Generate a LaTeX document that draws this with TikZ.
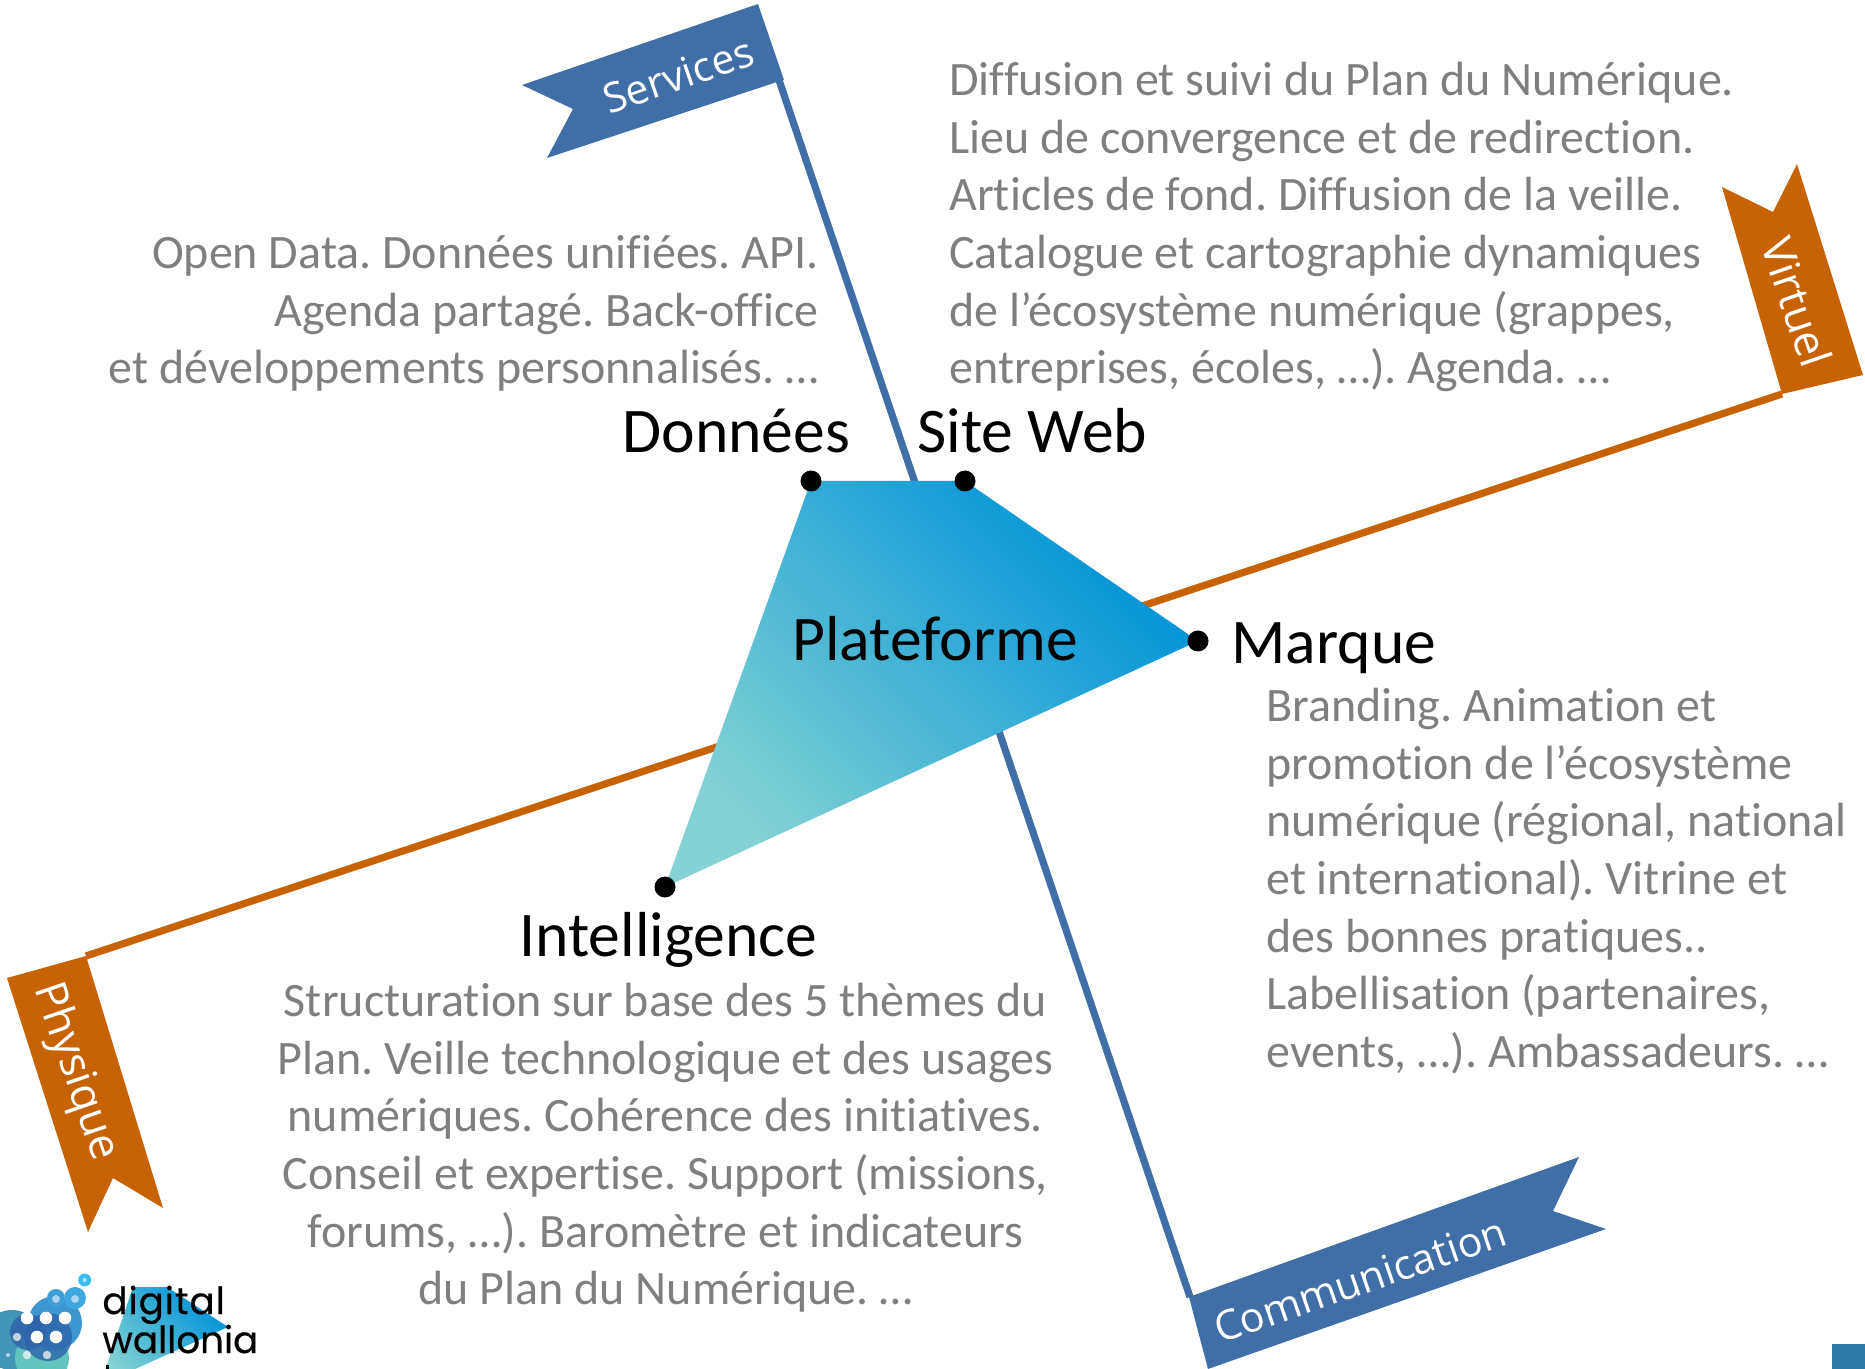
\documentclass[tikz,border=0pt]{standalone}
\usepackage{fontspec}
\setmainfont[Ligatures=NoCommon]{Carlito}
\newfontfamily\logofont[FakeBold=0.4]{Poppins}
\newfontfamily\flagfont{Open Sans}
\definecolor{flagblue}{HTML}{406FA7}
\definecolor{flagorange}{HTML}{C76304}
\definecolor{bodygray}{HTML}{7F7F7F}
\definecolor{gradlight}{HTML}{84D2D3}
\definecolor{gradmid}{HTML}{3DAED4}
\definecolor{graddark}{HTML}{0093D9}
\tikzset{
  x=0.5pt,y=-0.5pt,
  pole/.style={line width=3.6pt,line cap=butt},
  flagshape/.style={fill,draw=none},
  body/.style={font=\frenchspacing\fontsize{24}{28.8}\selectfont,text=bodygray,inner sep=0pt},
  head/.style={font=\fontsize{31.8}{36}\selectfont,text=black,inner sep=0pt},
  flagtext/.style={font=\flagfont\fontsize{20.6}{24}\selectfont,text=white,inner sep=0pt},
  pt/.style={circle,fill=black,minimum size=10.5pt,inner sep=0pt},
  platform/.style={left color=gradlight,middle color=gradmid,right color=graddark,shading angle=135},
  logotext/.style={font=\logofont\fontsize{18.6}{20}\selectfont,inner sep=0pt,anchor=base west},
}
\begin{document}
\begin{tikzpicture}
\useasboundingbox (0,0) rectangle (1865,1369);
\clip (0,0) rectangle (1865,1369);
% logo mini polygon
\shade[platform] (133,1287)--(167,1287)--(228,1327)--(100,1385)--cycle;
% logo bubbles
\fill[fill={rgb,255:red,46;green,138;blue,174},opacity=.9] (12,1340) circle (30);
\fill[fill={rgb,255:red,98;green,196;blue,188}] (42,1358) circle (27);
\fill[fill={rgb,255:red,52;green,144;blue,204},opacity=.95] (55,1323) circle (27);
\fill[fill={rgb,255:red,46;green,100;blue,170},opacity=.85] (28,1332) circle (18);
\fill[fill={rgb,255:red,46;green,100;blue,170},opacity=.8] (48,1337) circle (24);
\fill[fill={rgb,255:red,63;green,158;blue,214}] (56,1298) circle (9);
\fill[fill={rgb,255:red,63;green,168;blue,224}] (75,1298) circle (11);
\fill[fill={rgb,255:red,61;green,189;blue,240}] (84.7,1280) circle (6.5);
\foreach \p in {(27,1318),(46,1318),(65,1318),(37,1337),(56,1337)}{\fill[white] \p circle (6.3);}
\foreach \p in {(17,1337),(27,1355),(47,1355)}{\fill[white,opacity=.7] \p circle (4.2);}
\foreach \p in {(56,1299),(75,1299)}{\fill[white,opacity=.55] \p circle (4);}
\fill[white,opacity=.6] (84.7,1280) circle (2);
\fill[white,opacity=.6] (8,1355) circle (2);
\node[logotext] (logoa) at (102,1314) {\addfontfeature{LetterSpace=2.7}digital};
\node[logotext] (logob) at (102,1353) {wallonia};
\fill[black] (106,1365) rectangle (109,1369);
% square
\fill[fill={rgb,255:red,46;green,120;blue,168}] (1832,1344) rectangle (1865,1369);
% poles
\coordinate (svcbase) at (779,80);
\coordinate (combase) at (1190,1297);
\coordinate (virbase) at (1782,394);
\coordinate (phybase) at (86,956);
\draw[pole,flagblue] (svcbase) -- (combase);
\draw[pole,flagorange] (virbase) -- (phybase);
% flags
\fill[flagshape,flagblue] (758,4)--(784,80)--(777,82)--(547,158)--(573,109)--(522,85)--cycle;
\fill[flagshape,flagblue] (1189,1297)--(1579,1157)--(1553,1211)--(1606,1229)--(1208,1369)--cycle;
\fill[flagshape,flagorange] (1797,164)--(1863,375)--(1782,394)--(1722,187)--(1773,212)--cycle;
\fill[flagshape,flagorange] (7,978)--(86,956)--(163,1208)--(113,1178)--(88,1232)--cycle;
\node[flagtext,rotate=19] (services) at (678,75) {Services};
\node[flagtext,rotate=19] (communication) at (1360,1280) {Communication};
\node[flagtext,rotate=-71,font=\flagfont\fontsize{21.8}{24}\selectfont] (virtuel) at (1797,302) {Virtuel};
\node[flagtext,rotate=-71,font=\flagfont\fontsize{21.8}{24}\selectfont] (physique) at (75,1072) {Physique};
% central polygon
\shade[platform] (811,481)--(965,481)--(1198,641)--(665,887)--cycle;
\node[pt] (donnees) at (811,481) {};
\node[pt] (siteweb) at (965,481) {};
\node[pt] (marque) at (1198,641) {};
\node[pt] (intel) at (665,887) {};
% heads
\node[head,anchor=base west] (hdon) at (622,453) {Données};
\node[head,anchor=base west] (hweb) at (917,453) {Site Web};
\node[head,anchor=base west] (hplat) at (792,661) {Plateforme};
\node[head,anchor=base west] (hmar) at (1231,664) {Marque};
\node[head,anchor=base west] (hint) at (519,956) {Intelligence};
% bodies
\node[body,align=left,anchor=north west] (b1) at (949,62) {Diffusion et suivi du Plan du Numérique.\\Lieu de convergence et de redirection.\\Articles de fond. Diffusion de la veille.\\Catalogue et cartographie dynamiques\\de l’écosystème numérique (grappes,\\entreprises, écoles, …). Agenda. …};
\node[body,align=right,anchor=north east] (b2) at (819,235) {Open Data. Données unifiées. API.\\Agenda partagé. Back-office\\et développements personnalisés. …};
\node[body,align=left,anchor=north west] (b3) at (1266,688) {Branding. Animation et\\promotion de l’écosystème\\numérique (régional, national\\et international). Vitrine et\\des bonnes pratiques..\\Labellisation (partenaires,\\events, …). Ambassadeurs. …};
\node[body,align=center,anchor=north] (b4) at (665.5,983) {Structuration sur base des 5 thèmes du\\Plan. Veille technologique et des usages\\numériques. Cohérence des initiatives.\\Conseil et expertise. Support (missions,\\forums, …). Baromètre et indicateurs\\du Plan du Numérique. …};
\end{tikzpicture}
\end{document}
